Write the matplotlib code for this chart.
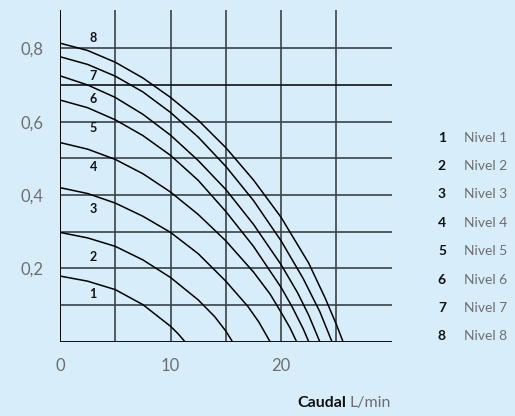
import matplotlib
matplotlib.use("Agg")
import matplotlib.pyplot as plt

plt.rcParams["font.family"] = ["Lato", "DejaVu Sans"]

# caudal (L/min) vs pressure for each level
curves = {
    1: ([0, 2.5, 5, 7.5, 10, 10.7, 11.3],
        [0.179, 0.165, 0.142, 0.101, 0.042, 0.021, 0.0]),
    2: ([0, 2.5, 5, 7.5, 10, 12.5, 14, 15, 15.6],
        [0.298, 0.283, 0.260, 0.223, 0.175, 0.114, 0.068, 0.029, 0.0]),
    3: ([0, 2.5, 5, 7.5, 10, 12.5, 15, 17, 18, 19.0],
        [0.42, 0.404, 0.378, 0.342, 0.298, 0.240, 0.165, 0.096, 0.053, 0.0]),
    4: ([0, 2.5, 5, 7.5, 10, 12.5, 15, 17.5, 19, 20, 20.8, 21.4],
        [0.543, 0.525, 0.497, 0.458, 0.408, 0.347, 0.275, 0.19, 0.13, 0.08, 0.038, 0.0]),
    5: ([0, 2.5, 5, 7.5, 10, 12.5, 15, 17.5, 20, 21, 22, 22.5],
        [0.659, 0.638, 0.605, 0.562, 0.508, 0.440, 0.355, 0.260, 0.148, 0.095, 0.035, 0.0]),
    6: ([0, 2.5, 5, 7.5, 10, 12.5, 15, 17.5, 20, 21.5, 22.5, 23.5],
        [0.725, 0.700, 0.666, 0.620, 0.563, 0.494, 0.415, 0.320, 0.210, 0.133, 0.072, 0.0]),
    7: ([0, 2.5, 5, 7.5, 10, 12.5, 15, 17.5, 20, 22, 23.5, 24.6],
        [0.777, 0.756, 0.724, 0.681, 0.625, 0.558, 0.478, 0.385, 0.275, 0.172, 0.082, 0.0]),
    8: ([0, 2.5, 5, 7.5, 10, 12.5, 15, 17.5, 20, 22.5, 24, 25, 25.6],
        [0.814, 0.794, 0.762, 0.719, 0.666, 0.604, 0.529, 0.441, 0.339, 0.214, 0.118, 0.047, 0.0]),
}
label_x = 3.0
label_y = [0.129, 0.23, 0.361, 0.477, 0.584, 0.663, 0.724, 0.827]
legend_names = ["Nivel 1", "Nivel 2", "Nivel 3", "Nivel 4", "Nivel 5", "Nivel 6", "Nivel 7", "Nivel 8"]
x_ticks = [0, 10, 20]
y_ticks = [0.2, 0.4, 0.6, 0.8]
x_grid = [0, 5, 10, 15, 20, 25]
y_grid = [0.1, 0.2, 0.3, 0.4, 0.5, 0.6, 0.7, 0.8]

bg = "#d7eefa"
grey = "#6e6e6e"
grid_col = "#3a4348"

fig = plt.figure(figsize=(5.15, 4.16), dpi=100, facecolor=bg)
ax = fig.add_axes([0.1165, 0.1786, 0.644, 0.797])
ax.set_facecolor(bg)

for gx in x_grid:
    ax.axvline(gx, color=grid_col, lw=1.2, zorder=1)
for gy in y_grid:
    ax.axhline(gy, color="#111111" if gy == 0.7 else grid_col, lw=1.2, zorder=1)
ax.axhline(0, color="black", lw=1.3, zorder=3)
ax.axvline(0, color="black", lw=1.3, zorder=3)

for n, (xs, ys) in curves.items():
    ax.plot(xs, ys, color="black", lw=1.1, zorder=2, solid_joinstyle="round")

for i, ly in enumerate(label_y):
    ax.text(label_x, ly, str(i + 1), fontsize=9, fontweight="bold",
            color="#111111", ha="center", va="center")

ax.set_xlim(0, 30)
ax.set_ylim(0, 0.904)
ax.set_xticks(x_ticks)
ax.set_xticklabels([str(t) for t in x_ticks])
ax.set_yticks(y_ticks)
ax.set_yticklabels([("%.1f" % t).replace(".", ",") for t in y_ticks])
ax.tick_params(length=0, labelsize=12, labelcolor=grey)
ax.tick_params(axis="y", pad=12)
ax.tick_params(axis="x", pad=12)
for s in ax.spines.values():
    s.set_visible(False)

# legend on the right
for i, name in enumerate(legend_names):
    yp = 1 - (137.7 + i * 28.4) / 416
    fig.text(446 / 515, yp, str(i + 1), fontsize=10, fontweight="bold",
             color="#111111", ha="right", va="center")
    fig.text(464 / 515, yp, name, fontsize=10, color=grey,
             ha="left", va="center")

fig.text(391 / 515, 1 - 403 / 416, "L/min", fontsize=11.5, color=grey,
         ha="right", va="center")
fig.text(346 / 515, 1 - 403 / 416, "Caudal", fontsize=11.5, fontweight="bold",
         color="#111111", ha="right", va="center")

fig.savefig("out.png", dpi=100, facecolor=bg)
